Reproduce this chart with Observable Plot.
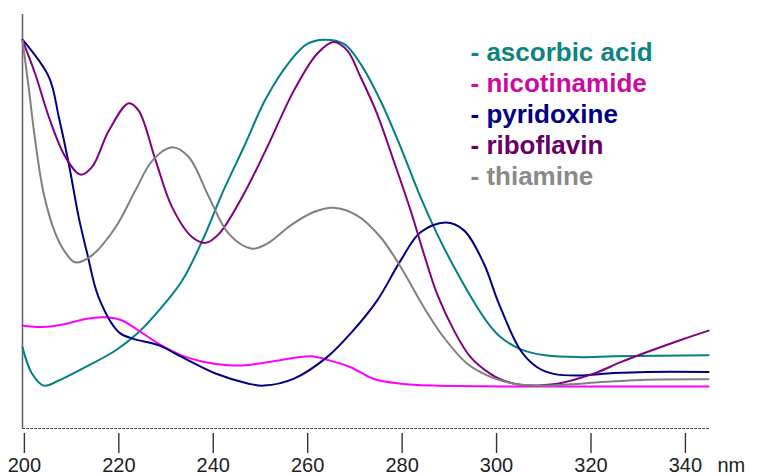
<!DOCTYPE html>
<html>
<head>
<meta charset="utf-8">
<script src="https://cdn.jsdelivr.net/npm/d3@7"></script>
<script src="https://cdn.jsdelivr.net/npm/@observablehq/plot@0.6"></script>
<style>
  html, body { margin: 0; padding: 0; background: #fff; overflow: hidden; }
  svg { display: block; }
</style>
</head>
<body>
<div id="chart"></div>
<script>
// Wavelengths (nm) and relative absorbance (% of max)
const ascorbicNm  = [199.6, 201.6, 204.1, 207.3, 212.2, 219.3, 224.2, 228.5, 233.4, 237.7, 241.9, 246.8, 251.1, 256.4, 259.9, 263.4, 267.7, 271.2, 275.4, 279.7, 283.9, 287.4, 291.0, 295.9, 298.7, 300.9, 305.1, 310.7, 317.8, 324.9, 344.9];
const ascorbicAbs = [20.8, 14.1, 11.0, 12.3, 15.3, 20.0, 24.7, 30.3, 37.9, 48.2, 60.3, 73.0, 84.5, 94.4, 98.6, 99.7, 98.6, 93.5, 84.1, 72.1, 59.3, 49.9, 41.4, 31.1, 26.2, 23.4, 20.3, 18.7, 18.3, 18.5, 18.8];

const nicotinamideNm  = [199.6, 203.8, 208.7, 212.9, 217.2, 220.7, 224.2, 228.5, 233.4, 238.4, 243.3, 247.5, 253.5, 260.6, 264.8, 269.1, 274.0, 279.7, 286.7, 300.9, 344.9];
const nicotinamideAbs = [26.4, 26.0, 26.8, 28.1, 28.5, 27.7, 25.1, 21.7, 18.7, 17.0, 16.2, 16.3, 17.4, 18.5, 17.4, 15.7, 12.7, 11.5, 11.0, 10.8, 10.8];

const pyridoxineNm  = [199.6, 205.2, 207.3, 209.4, 211.5, 213.3, 215.7, 220.0, 222.8, 228.5, 233.4, 240.5, 247.5, 250.7, 257.1, 264.1, 269.1, 274.7, 279.7, 283.9, 289.2, 293.1, 297.3, 300.4, 305.1, 308.6, 312.1, 317.1, 324.8, 331.9, 344.9];
const pyridoxineAbs = [99.7, 90.1, 79.8, 67.9, 54.2, 44.9, 33.7, 24.7, 23.1, 21.3, 18.3, 14.1, 11.5, 11.0, 12.8, 18.3, 24.4, 32.8, 43.1, 50.3, 52.8, 50.8, 42.3, 32.3, 20.0, 15.7, 14.0, 13.6, 14.2, 14.5, 14.5];

const riboflavinNm  = [199.6, 202.3, 205.2, 208.7, 211.9, 214.3, 217.9, 222.1, 224.2, 227.8, 231.3, 235.5, 238.4, 241.2, 246.1, 251.1, 257.1, 262.0, 265.5, 268.4, 271.2, 274.7, 278.2, 281.8, 284.6, 287.4, 291.0, 294.5, 298.7, 300.9, 305.1, 312.9, 316.4, 321.3, 326.3, 331.9, 339.0, 344.9];
const riboflavinAbs = [99.5, 90.9, 79.8, 69.6, 65.1, 67.0, 76.4, 83.4, 81.5, 68.7, 56.7, 49.1, 47.6, 49.9, 59.3, 71.3, 86.7, 96.1, 99.1, 96.9, 90.1, 80.7, 68.7, 55.9, 44.8, 34.5, 25.1, 18.3, 14.0, 12.6, 11.2, 11.5, 12.5, 14.4, 17.0, 19.6, 22.7, 25.1];

const thiamineNm  = [199.6, 200.9, 202.3, 204.1, 206.6, 208.7, 210.8, 214.3, 219.3, 223.5, 227.1, 231.3, 234.8, 239.1, 243.3, 248.2, 251.4, 256.4, 261.3, 265.5, 270.5, 275.4, 279.7, 284.6, 288.8, 293.8, 298.0, 300.9, 305.1, 310.7, 317.8, 324.9, 331.9, 344.9];
const thiamineAbs = [99.5, 87.5, 73.8, 60.2, 49.9, 45.1, 42.6, 44.4, 51.6, 61.0, 68.7, 72.1, 69.6, 59.3, 49.9, 46.1, 47.4, 52.1, 55.5, 56.6, 54.6, 49.1, 41.4, 31.1, 23.4, 16.6, 13.6, 12.3, 11.2, 11.0, 11.5, 12.1, 12.5, 12.6];

const seriesNames  = ["ascorbic acid", "nicotinamide", "pyridoxine", "riboflavin", "thiamine"];
const lineColors   = ["#008080", "#ff00ff", "#000080", "#800080", "#808080"];
const legendColors = ["#0b857d", "#cc0aa0", "#000080", "#660066", "#8a8a8a"];
const xTicks = [200, 220, 240, 260, 280, 300, 320, 340];

const seriesNm  = [ascorbicNm, nicotinamideNm, pyridoxineNm, riboflavinNm, thiamineNm];
const seriesAbs = [ascorbicAbs, nicotinamideAbs, pyridoxineAbs, riboflavinAbs, thiamineAbs];

const rows = [];
seriesNames.forEach((name, i) => {
  seriesNm[i].forEach((nm, j) => rows.push({name, nm, abs: seriesAbs[i][j]}));
});

const font = "'Liberation Sans', Arial, Helvetica, sans-serif";

const legendMarks = seriesNames.map((name, i) =>
  Plot.text([`- ${name}`], {
    frameAnchor: "top-left",
    dx: 448,
    dy: 38 + i * 31,
    text: d => d,
    textAnchor: "start",
    lineAnchor: "middle",
    fill: legendColors[i],
    fontSize: 26,
    fontWeight: "bold"
  })
);

const plot = Plot.plot({
  width: 757,
  height: 475,
  marginLeft: 22,
  marginRight: 48,
  marginTop: 14,
  marginBottom: 47,
  style: { fontFamily: font, background: "#fff" },
  x: { domain: [199.6, 345.1] },
  y: { domain: [0, 106.15], axis: null },
  color: { domain: seriesNames, range: lineColors },
  marks: [
    Plot.ruleY([0], { stroke: "#555", strokeWidth: 1, strokeDasharray: "3,1" }),
    Plot.ruleX([199.6], { y1: 0, y2: 106.15, stroke: "#666", strokeWidth: 1.6 }),
    Plot.axisX({
      ticks: xTicks,
      tickFormat: d => String(d),
      tickSize: 20,
      tickPadding: 4,
      dy: 5,
      fontSize: 20,
      stroke: "#333",
      strokeWidth: 1.4,
      fill: "#222",
      label: null
    }),
    Plot.text(["nm"], {
      frameAnchor: "bottom-right",
      dx: 8,
      dy: 43,
      text: d => d,
      textAnchor: "start",
      lineAnchor: "bottom",
      fontSize: 20,
      fill: "#222"
    }),
    Plot.line(rows, {
      x: "nm",
      y: "abs",
      z: "name",
      stroke: "name",
      strokeWidth: 2,
      curve: "catmull-rom"
    }),
    ...legendMarks
  ]
});

document.getElementById("chart").appendChild(plot);
</script>
</body>
</html>
